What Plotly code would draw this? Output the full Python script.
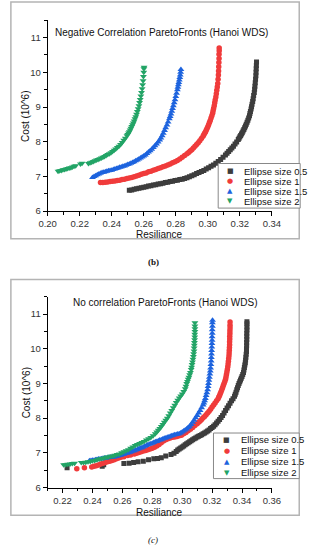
import plotly.graph_objects as go

# ---------------- data: (b) negative correlation, (resilience, cost) pairs ----------------
neg_05 = [(0.251,6.60),(0.2525,6.61),(0.254,6.63),(0.2555,6.64),(0.257,6.66),(0.2585,6.67),(0.260,6.69),(0.2615,6.70),
          (0.263,6.72),(0.2645,6.73),(0.266,6.75),(0.2675,6.76),(0.269,6.78),(0.2705,6.79),(0.272,6.80),(0.2735,6.82),
          (0.275,6.83),(0.2765,6.85),(0.278,6.86),(0.2795,6.88),(0.281,6.89),(0.2825,6.91),(0.284,6.92),(0.2855,6.94),
          (0.287,6.96),(0.2885,6.99),(0.290,7.02),(0.2915,7.05),(0.293,7.08),(0.2945,7.11),(0.296,7.14),(0.2975,7.17),
          (0.299,7.21),(0.3005,7.25),(0.302,7.29),(0.3035,7.33),(0.305,7.38),(0.3065,7.43),(0.308,7.49),(0.3095,7.55),
          (0.311,7.62),(0.312,7.67),(0.313,7.72),(0.314,7.77),(0.315,7.82),(0.316,7.87),(0.317,7.93),(0.318,7.99),
          (0.319,8.06),(0.3195,8.10),(0.320,8.14),(0.3205,8.18),(0.321,8.22),(0.3215,8.26),(0.322,8.31),(0.3225,8.35),
          (0.323,8.40),(0.3235,8.45),(0.324,8.50),(0.3245,8.56),(0.325,8.62),(0.3255,8.68),(0.326,8.75),(0.3263,8.81),
          (0.3266,8.87),(0.327,8.94),(0.3273,9.01),(0.3276,9.08),(0.328,9.16),(0.3283,9.24),(0.3286,9.33),(0.329,9.42),
          (0.3292,9.51),(0.3294,9.60),(0.3296,9.70),(0.3298,9.80),(0.330,9.90),(0.3301,10.00),(0.3302,10.10),(0.3303,10.20),
          (0.3304,10.30)]

neg_1 = [(0.233,6.82),(0.2345,6.82),(0.236,6.83),(0.2375,6.84),(0.239,6.85),(0.2405,6.86),(0.242,6.87),(0.2435,6.88),
         (0.245,6.89),(0.2465,6.91),(0.248,6.92),(0.2495,6.94),(0.251,6.95),(0.2525,6.97),(0.254,6.99),(0.2555,7.01),
         (0.257,7.03),(0.2585,7.06),(0.260,7.08),(0.2615,7.10),(0.263,7.13),(0.2645,7.15),(0.266,7.18),(0.2675,7.20),
         (0.269,7.23),(0.2705,7.25),(0.272,7.28),(0.2735,7.30),(0.275,7.33),(0.2765,7.36),(0.278,7.39),(0.2795,7.42),
         (0.281,7.46),(0.2825,7.50),(0.284,7.55),(0.2855,7.60),(0.287,7.65),(0.288,7.69),(0.289,7.73),(0.290,7.77),
         (0.291,7.82),(0.292,7.87),(0.293,7.92),(0.294,7.97),(0.295,8.03),(0.296,8.09),(0.297,8.16),(0.2975,8.20),
         (0.298,8.24),(0.2985,8.28),(0.299,8.33),(0.2995,8.38),(0.300,8.43),(0.3005,8.49),(0.301,8.55),(0.3015,8.61),
         (0.302,8.68),(0.3025,8.75),(0.303,8.82),(0.3033,8.89),(0.3036,8.96),(0.304,9.04),(0.3043,9.12),(0.3046,9.20),
         (0.305,9.29),(0.3053,9.38),(0.3056,9.48),(0.3059,9.58),(0.3062,9.68),(0.3064,9.80),(0.3066,9.92),(0.3067,10.04),
         (0.3068,10.16),(0.3069,10.28),(0.307,10.40),(0.307,10.52),(0.3071,10.62),(0.3071,10.70)]

neg_15 = [(0.228,6.97),(0.229,7.00),(0.230,7.02),(0.231,7.05),(0.232,7.07),(0.233,7.09),(0.234,7.11),(0.235,7.12),
          (0.236,7.13),(0.237,7.15),(0.238,7.16),(0.239,7.17),(0.240,7.18),(0.241,7.20),(0.242,7.21),(0.243,7.23),
          (0.244,7.24),(0.245,7.26),(0.246,7.27),(0.247,7.29),(0.248,7.30),(0.249,7.32),(0.250,7.34),(0.251,7.36),
          (0.252,7.38),(0.253,7.40),(0.254,7.42),(0.255,7.45),(0.256,7.47),(0.257,7.50),(0.258,7.53),(0.259,7.56),
          (0.260,7.59),(0.261,7.62),(0.262,7.66),(0.263,7.70),(0.264,7.74),(0.265,7.78),(0.266,7.83),(0.267,7.88),
          (0.268,7.93),(0.269,7.99),(0.270,8.05),(0.2707,8.11),(0.2715,8.17),(0.2722,8.24),(0.273,8.32),(0.2737,8.40),
          (0.2745,8.48),(0.2752,8.57),(0.276,8.66),(0.2765,8.73),(0.277,8.80),(0.2775,8.88),(0.278,8.96),(0.2785,9.04),
          (0.279,9.12),(0.2795,9.21),(0.280,9.30),(0.2805,9.40),(0.281,9.50),(0.2813,9.57),(0.2816,9.64),(0.2819,9.71),
          (0.2822,9.78),(0.2825,9.85),(0.2828,9.92),(0.283,10.00),(0.2832,10.08)]

neg_2 = [(0.2065,7.15),(0.2075,7.16),(0.2085,7.17),(0.2095,7.19),(0.2105,7.20),(0.2115,7.21),(0.2125,7.23),(0.2135,7.24),
         (0.2145,7.25),(0.2155,7.27),(0.2165,7.29),(0.2175,7.31),(0.2205,7.36),(0.2215,7.38),(0.2255,7.37),(0.2265,7.39),
         (0.2275,7.41),(0.2285,7.43),(0.2295,7.45),(0.2305,7.47),(0.2315,7.49),(0.2325,7.51),(0.2335,7.53),(0.2345,7.55),
         (0.2355,7.57),(0.2365,7.60),(0.2375,7.63),(0.2385,7.65),(0.2395,7.68),(0.2405,7.72),(0.2415,7.75),(0.2425,7.79),
         (0.2435,7.83),(0.2445,7.87),(0.2455,7.92),(0.2465,7.98),(0.2475,8.04),(0.2485,8.10),(0.2495,8.17),(0.250,8.21),
         (0.2505,8.25),(0.251,8.29),(0.2515,8.34),(0.252,8.39),(0.2525,8.44),(0.253,8.49),(0.2535,8.54),(0.254,8.60),
         (0.2545,8.66),(0.255,8.72),(0.2555,8.79),(0.256,8.87),(0.2565,8.95),(0.257,9.04),(0.2574,9.13),(0.2578,9.22),
         (0.2582,9.32),(0.2586,9.42),(0.259,9.53),(0.2593,9.64),(0.2596,9.76),(0.2598,9.88),(0.260,10.00),(0.2601,10.10),
         (0.2602,10.15)]

# ---------------- data: (c) no correlation ----------------
no_05 = [(0.223,6.57),(0.2465,6.61),(0.2475,6.66),(0.261,6.69),(0.2645,6.70),(0.2675,6.72),(0.2705,6.74),(0.274,6.76),
         (0.2775,6.80),(0.281,6.83),(0.2835,6.84),(0.286,6.86),(0.289,6.91),(0.2925,6.95),(0.2945,6.99),(0.296,7.04),
         (0.297,7.08),(0.298,7.11),(0.299,7.14),(0.300,7.17),(0.301,7.20),(0.302,7.23),(0.303,7.26),(0.304,7.29),
         (0.305,7.32),(0.306,7.35),(0.307,7.38),(0.308,7.41),(0.309,7.43),(0.310,7.46),(0.311,7.48),(0.312,7.50),
         (0.313,7.52),(0.314,7.55),(0.315,7.57),(0.316,7.60),(0.317,7.63),(0.318,7.66),(0.319,7.70),(0.320,7.73),
         (0.321,7.77),(0.322,7.81),(0.323,7.86),(0.324,7.91),(0.325,7.96),(0.326,8.02),(0.327,8.08),(0.328,8.15),
         (0.329,8.22),(0.330,8.29),(0.331,8.36),(0.332,8.43),(0.333,8.50),(0.334,8.56),(0.335,8.63),(0.3355,8.69),
         (0.336,8.75),(0.3365,8.82),(0.337,8.88),(0.3375,8.94),(0.338,9.00),(0.3385,9.05),(0.339,9.10),(0.3395,9.15),
         (0.340,9.20),(0.3405,9.26),(0.341,9.32),(0.3413,9.39),(0.3416,9.46),(0.3419,9.53),(0.3422,9.60),(0.3424,9.68),
         (0.3426,9.76),(0.3428,9.84),(0.343,9.92),(0.343,10.00),(0.3431,10.09),(0.3431,10.18),(0.3432,10.27),(0.3432,10.36),
         (0.3432,10.45),(0.3433,10.54),(0.3433,10.63),(0.3433,10.72),(0.3433,10.78)]

no_1 = [(0.2295,6.54),(0.2346,6.57),(0.2395,6.59),(0.241,6.61),(0.2425,6.63),(0.244,6.65),(0.2455,6.68),(0.247,6.70),
        (0.2485,6.72),(0.250,6.74),(0.2515,6.76),(0.253,6.78),(0.2545,6.80),(0.256,6.83),(0.2575,6.85),(0.259,6.87),
        (0.261,6.89),(0.2635,6.92),(0.2655,6.94),(0.268,6.97),(0.2695,6.99),(0.271,7.01),(0.2725,7.03),(0.274,7.05),
        (0.2755,7.07),(0.277,7.09),(0.2785,7.11),(0.280,7.13),(0.2815,7.16),(0.283,7.20),(0.2845,7.24),(0.286,7.29),
        (0.2875,7.34),(0.289,7.38),(0.2905,7.41),(0.292,7.43),(0.2935,7.45),(0.295,7.46),(0.2965,7.47),(0.298,7.49),
        (0.2995,7.51),(0.301,7.55),(0.3025,7.59),(0.304,7.64),(0.3055,7.68),(0.307,7.73),(0.3085,7.79),(0.310,7.84),
        (0.311,7.88),(0.312,7.92),(0.313,7.96),(0.314,8.01),(0.315,8.05),(0.316,8.10),(0.317,8.15),(0.318,8.20),
        (0.319,8.26),(0.320,8.32),(0.321,8.38),(0.322,8.44),(0.323,8.50),(0.324,8.56),(0.3245,8.61),(0.325,8.65),
        (0.3255,8.71),(0.326,8.76),(0.3265,8.82),(0.327,8.88),(0.3275,8.94),(0.328,9.00),(0.3285,9.06),(0.329,9.12),
        (0.3293,9.19),(0.3296,9.26),(0.3299,9.33),(0.3302,9.40),(0.3305,9.48),(0.3307,9.56),(0.3309,9.64),(0.3311,9.72),
        (0.3313,9.80),(0.3314,9.88),(0.3315,9.96),(0.3316,10.04),(0.3317,10.12),(0.3317,10.20),(0.3318,10.28),(0.3318,10.36),
        (0.3319,10.44),(0.3319,10.52),(0.332,10.60),(0.332,10.68),(0.332,10.77)]

no_15 = [(0.238,6.77),(0.239,6.78),(0.240,6.79),(0.241,6.79),(0.242,6.80),(0.243,6.81),(0.244,6.82),(0.245,6.82),
         (0.246,6.83),(0.247,6.84),(0.248,6.85),(0.249,6.85),(0.250,6.86),(0.251,6.87),(0.252,6.87),(0.253,6.88),
         (0.254,6.88),(0.255,6.89),(0.256,6.90),(0.257,6.91),(0.258,6.92),(0.259,6.93),(0.260,6.95),(0.261,6.96),
         (0.262,6.98),(0.263,6.99),(0.264,7.00),(0.265,7.02),(0.266,7.03),(0.267,7.05),(0.268,7.06),(0.269,7.08),
         (0.270,7.10),(0.271,7.12),(0.272,7.14),(0.273,7.15),(0.274,7.17),(0.275,7.19),(0.276,7.21),(0.277,7.23),
         (0.278,7.25),(0.279,7.26),(0.280,7.28),(0.281,7.30),(0.282,7.32),(0.283,7.33),(0.284,7.35),(0.285,7.37),
         (0.286,7.38),(0.287,7.40),(0.288,7.42),(0.289,7.43),(0.290,7.45),(0.291,7.46),(0.292,7.48),(0.293,7.49),
         (0.294,7.51),(0.295,7.52),(0.296,7.53),(0.297,7.54),(0.298,7.55),(0.299,7.57),(0.300,7.60),(0.301,7.63),
         (0.302,7.66),(0.303,7.69),(0.304,7.73),(0.305,7.77),(0.306,7.82),(0.307,7.88),(0.308,7.94),(0.309,8.01),
         (0.310,8.08),(0.311,8.15),(0.312,8.22),(0.313,8.30),(0.314,8.38),(0.3145,8.44),(0.315,8.50),(0.3155,8.57),
         (0.316,8.65),(0.3165,8.73),(0.317,8.82),(0.3173,8.91),(0.3176,9.00),(0.3179,9.09),(0.3182,9.18),(0.3185,9.27),
         (0.3188,9.36),(0.319,9.45),(0.3192,9.55),(0.3194,9.65),(0.3195,9.75),(0.3196,9.85),(0.3197,9.95),(0.3198,10.05),
         (0.3199,10.15),(0.320,10.25),(0.320,10.35),(0.3201,10.45),(0.3201,10.55),(0.3202,10.65),(0.3202,10.75),(0.3203,10.82)]

no_2 = [(0.2207,6.66),(0.222,6.66),(0.2235,6.67),(0.225,6.68),(0.2265,6.69),(0.228,6.70),(0.2325,6.72),(0.234,6.72),
        (0.2355,6.73),(0.237,6.74),(0.2385,6.75),(0.240,6.77),(0.2415,6.78),(0.243,6.80),(0.2445,6.82),(0.246,6.84),
        (0.2475,6.85),(0.249,6.87),(0.2505,6.88),(0.252,6.90),(0.2535,6.91),(0.255,6.93),(0.2565,6.95),(0.258,6.97),
        (0.2595,7.00),(0.261,7.03),(0.2625,7.06),(0.264,7.09),(0.2655,7.13),(0.267,7.17),(0.2685,7.21),(0.270,7.24),
        (0.2715,7.27),(0.273,7.30),(0.2745,7.33),(0.276,7.37),(0.2775,7.41),(0.279,7.44),(0.2805,7.49),(0.282,7.55),
        (0.283,7.60),(0.284,7.65),(0.285,7.70),(0.286,7.76),(0.287,7.82),(0.288,7.88),(0.289,7.94),(0.290,8.00),
        (0.291,8.07),(0.292,8.15),(0.293,8.22),(0.294,8.30),(0.295,8.37),(0.296,8.45),(0.297,8.52),(0.298,8.58),
        (0.299,8.64),(0.300,8.70),(0.301,8.77),(0.302,8.85),(0.3025,8.92),(0.303,9.00),(0.3035,9.06),(0.304,9.12),
        (0.3045,9.18),(0.305,9.25),(0.3055,9.32),(0.306,9.40),(0.3063,9.47),(0.3066,9.55),(0.3069,9.62),(0.3072,9.70),
        (0.3075,9.78),(0.3077,9.86),(0.3079,9.94),(0.308,10.02),(0.3081,10.10),(0.3082,10.18),(0.3083,10.26),(0.3084,10.34),
        (0.3084,10.42),(0.3085,10.50),(0.3085,10.58),(0.3085,10.66),(0.3085,10.75)]

series_names = ["Ellipse size 0.5", "Ellipse size 1", "Ellipse size 1.5", "Ellipse size 2"]
x_ticks_b = [0.20, 0.22, 0.24, 0.26, 0.28, 0.30, 0.32, 0.34]
x_ticks_c = [0.22, 0.24, 0.26, 0.28, 0.30, 0.32, 0.34, 0.36]
y_ticks = [6, 7, 8, 9, 10, 11]

# ---------------- styles ----------------
colors = ["#3d3d3d", "#f03b3b", "#1d63de", "#22a466"]
symbols = ["square", "circle", "triangle-up", "triangle-down"]
sizes = [5, 5.5, 6, 6]
glyphs = ["■", "●", "▲", "▼"]
FONT = "Liberation Sans, Arial, sans-serif"
W, H = 312, 550


def px(x):
    return x / W


def py(y):
    return 1 - y / H


fig = go.Figure()

for panel, (xa, ya) in [([neg_05, neg_1, neg_15, neg_2], ("x", "y")), ([no_05, no_1, no_15, no_2], ("x2", "y2"))]:
    for i, pts in enumerate(panel):
        xs = [p[0] for p in pts]
        ys = [p[1] for p in pts]
        fig.add_trace(go.Scatter(x=xs, y=ys, mode="markers", name=series_names[i],
                                 marker=dict(symbol=symbols[i], size=sizes[i], color=colors[i], line=dict(width=0)),
                                 xaxis=xa, yaxis=ya, showlegend=False))

axis_common = dict(showline=True, linecolor="black", linewidth=1, ticks="outside", ticklen=4,
                   tickwidth=1, tickcolor="black", showgrid=False, zeroline=False,
                   tickfont=dict(family=FONT, size=9.5, color="#333333"))

xdom = [px(41), px(279)]
fig.update_layout(
    width=W, height=H, margin=dict(l=0, r=0, t=0, b=0),
    paper_bgcolor="white", plot_bgcolor="white", showlegend=False,
    xaxis=dict(domain=xdom, range=[0.20, 0.34], tickvals=x_ticks_b,
               ticktext=[f"{v:.2f}" for v in x_ticks_b], anchor="y",
               minor=dict(ticks="outside", ticklen=2.5, tickcolor="black", dtick=0.01, tick0=0.2),
               **axis_common),
    yaxis=dict(domain=[py(213), py(20.5)], range=[6, 11.5], tickvals=y_ticks, anchor="x",
               minor=dict(ticks="outside", ticklen=2.5, tickcolor="black", dtick=0.5, tick0=6),
               **axis_common),
    xaxis2=dict(domain=xdom, range=[0.21, 0.36], tickvals=x_ticks_c,
                ticktext=[f"{v:.2f}" for v in x_ticks_c], anchor="y2",
                minor=dict(ticks="outside", ticklen=2.5, tickcolor="black", dtick=0.01, tick0=0.21),
                **axis_common),
    yaxis2=dict(domain=[py(492), py(299.5)], range=[6, 11.5], tickvals=y_ticks, anchor="x2",
                minor=dict(ticks="outside", ticklen=2.5, tickcolor="black", dtick=0.5, tick0=6),
                **axis_common),
)

shapes = []
for (x0, y0, x1, y1) in [(2, 2, 308, 241), (2, 282, 308, 520)]:
    shapes.append(dict(type="rect", xref="paper", yref="paper", x0=px(x0), x1=px(x1), y0=py(y1), y1=py(y0),
                       line=dict(color="#b4b4b4", width=1.5), fillcolor="rgba(0,0,0,0)", layer="below"))
for (x0, y0, x1, y1) in [(222, 165, 309, 210), (217, 437, 308, 483)]:
    shapes.append(dict(type="rect", xref="paper", yref="paper", x0=px(x0), x1=px(x1), y0=py(y1), y1=py(y0),
                       line=dict(color="#888888", width=1), fillcolor="white", layer="above"))
fig.update_layout(shapes=shapes)

ann = []


def text(x, y, s, size=10, xanchor="center", color="#111111", family=FONT, angle=0):
    ann.append(dict(x=px(x), y=py(y), xref="paper", yref="paper", text=s, showarrow=False,
                    xanchor=xanchor, yanchor="middle", textangle=angle,
                    font=dict(family=family, size=size, color=color)))


text(162, 33, "Negative Correlation ParetoFronts (Hanoi WDS)", size=10)
text(166, 305, "No correlation ParetoFronts (Hanoi WDS)", size=10)
text(160, 237, "Resiliance", size=10)
text(160, 517, "Resiliance", size=10)
text(18, 117, "Cost (10^6)", size=10, angle=-90)
text(18, 396, "Cost (10^6)", size=10, angle=-90)
text(153, 264, "<b>(b)</b>", size=9, family="Liberation Serif, DejaVu Serif, serif")
text(153, 545, "<i>(c)</i>", size=9, family="Liberation Serif, DejaVu Serif, serif")

for (mx, tx, ys) in [(235, 247, [173, 183, 193, 203]), (231, 244, [444, 455, 466, 477])]:
    for i in range(4):
        text(mx, ys[i], glyphs[i], size=7, color=colors[i], family="DejaVu Sans")
        text(tx, ys[i], series_names[i], size=9.5, xanchor="left", color="#111111")

fig.update_layout(annotations=ann)
fig.write_html("out.html", config={"displayModeBar": False},
               post_script="document.body.style.margin='0';document.body.style.overflow='hidden';")
